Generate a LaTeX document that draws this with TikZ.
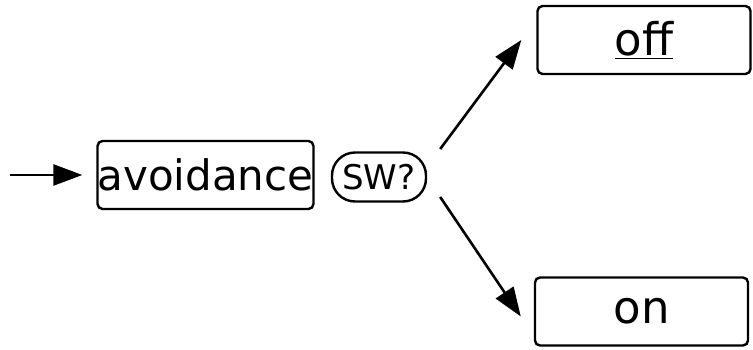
\documentclass[tikz,border=0pt]{standalone}
\usepackage{fontspec}
\setmainfont{DejaVu Sans}
\usetikzlibrary{arrows.meta}
\tikzstyle{state}=[draw,line width=2.4pt,rounded corners=5pt,minimum width=213pt,minimum height=68pt,inner sep=0pt,font=\fontsize{45}{45}\selectfont]
\tikzstyle{test}=[draw,line width=2.4pt,rounded corners=23pt,minimum width=94pt,minimum height=49pt,inner sep=0pt,font=\fontsize{34}{34}\selectfont]

\begin{document}
\begin{tikzpicture}[x=1pt,y=-1pt,line width=2.6pt,-{Triangle[length=29pt,width=21pt]}]
  \useasboundingbox (0,0) rectangle (753,350);
  \node[state,font=\fontsize{42}{42}\selectfont] (avoid) at (205.5,175) {avoidance};
  \node[test] (sw) at (379,177) {SW?};
  \foreach \name/\x/\y/\text in {off/644/40/\underline{off}, on/641.5/311.5/on}
    \node[state] (\name) at (\x,\y) {\text};
  \coordinate (start) at (10,175);
  \draw (start) -- ([xshift=-14pt]avoid.west);
  \draw ([xshift=13pt,yshift=28pt]sw.east) -- ([xshift=-15pt]off.west);
  \draw ([xshift=13pt,yshift=-20pt]sw.east) -- ([xshift=-13pt,yshift=-5pt]on.west);
\end{tikzpicture}
\end{document}
